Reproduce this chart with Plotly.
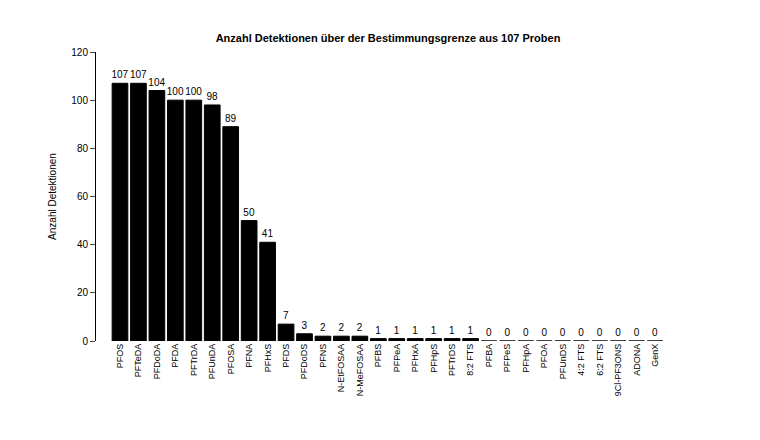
import plotly.graph_objects as go

stoffe = ["PFOS", "PFTeDA", "PFDoDA", "PFDA", "PFTrDA", "PFUnDA", "PFOSA", "PFNA", "PFHxS",
          "PFDS", "PFDoDS", "PFNS", "N-EtFOSAA", "N-MeFOSAA", "PFBS", "PFPeA", "PFHxA",
          "PFHpS", "PFTrDS", "8:2 FTS", "PFBA", "PFPeS", "PFHpA", "PFOA", "PFUnDS",
          "4:2 FTS", "6:2 FTS", "9Cl-PF3ONS", "ADONA", "GenX"]
anzahl = [107, 107, 104, 100, 100, 98, 89, 50, 41, 7, 3, 2, 2, 2, 1, 1, 1, 1, 1, 1,
          0, 0, 0, 0, 0, 0, 0, 0, 0, 0]
y_ticks = [0, 20, 40, 60, 80, 100, 120]

fig = go.Figure(go.Bar(
    x=list(range(len(stoffe))),
    y=anzahl,
    width=0.85,
    marker=dict(color="black", line=dict(color="black", width=1)),
    text=[str(v) for v in anzahl],
    textposition="outside",
    constraintext="none",
    textfont=dict(size=10, color="black"),
    cliponaxis=False,
))

fig.update_layout(
    width=760, height=440,
    margin=dict(l=88, r=100, t=44, b=107),
    plot_bgcolor="white", paper_bgcolor="white",
    font=dict(family="Liberation Sans, Arial", color="black", size=10),
    title=dict(text="<b>Anzahl Detektionen über der Bestimmungsgrenze aus 107 Proben</b>",
               x=0.5, xanchor="center", y=0.94, font=dict(size=11)),
    showlegend=False,
)
fig.update_xaxes(
    range=[-1.3, 29.7], tickvals=list(range(len(stoffe))), ticktext=stoffe,
    tickangle=-90, showgrid=False, zeroline=False, showline=False, ticks="",
    tickfont=dict(size=9),
)
fig.update_yaxes(
    range=[0, 120], tickvals=y_ticks, showgrid=False, zeroline=False,
    showline=True, linecolor="black", ticks="outside", ticklen=5,
    title=dict(text="Anzahl Detektionen", font=dict(size=10), standoff=12),
)

fig.write_html("out.html")
